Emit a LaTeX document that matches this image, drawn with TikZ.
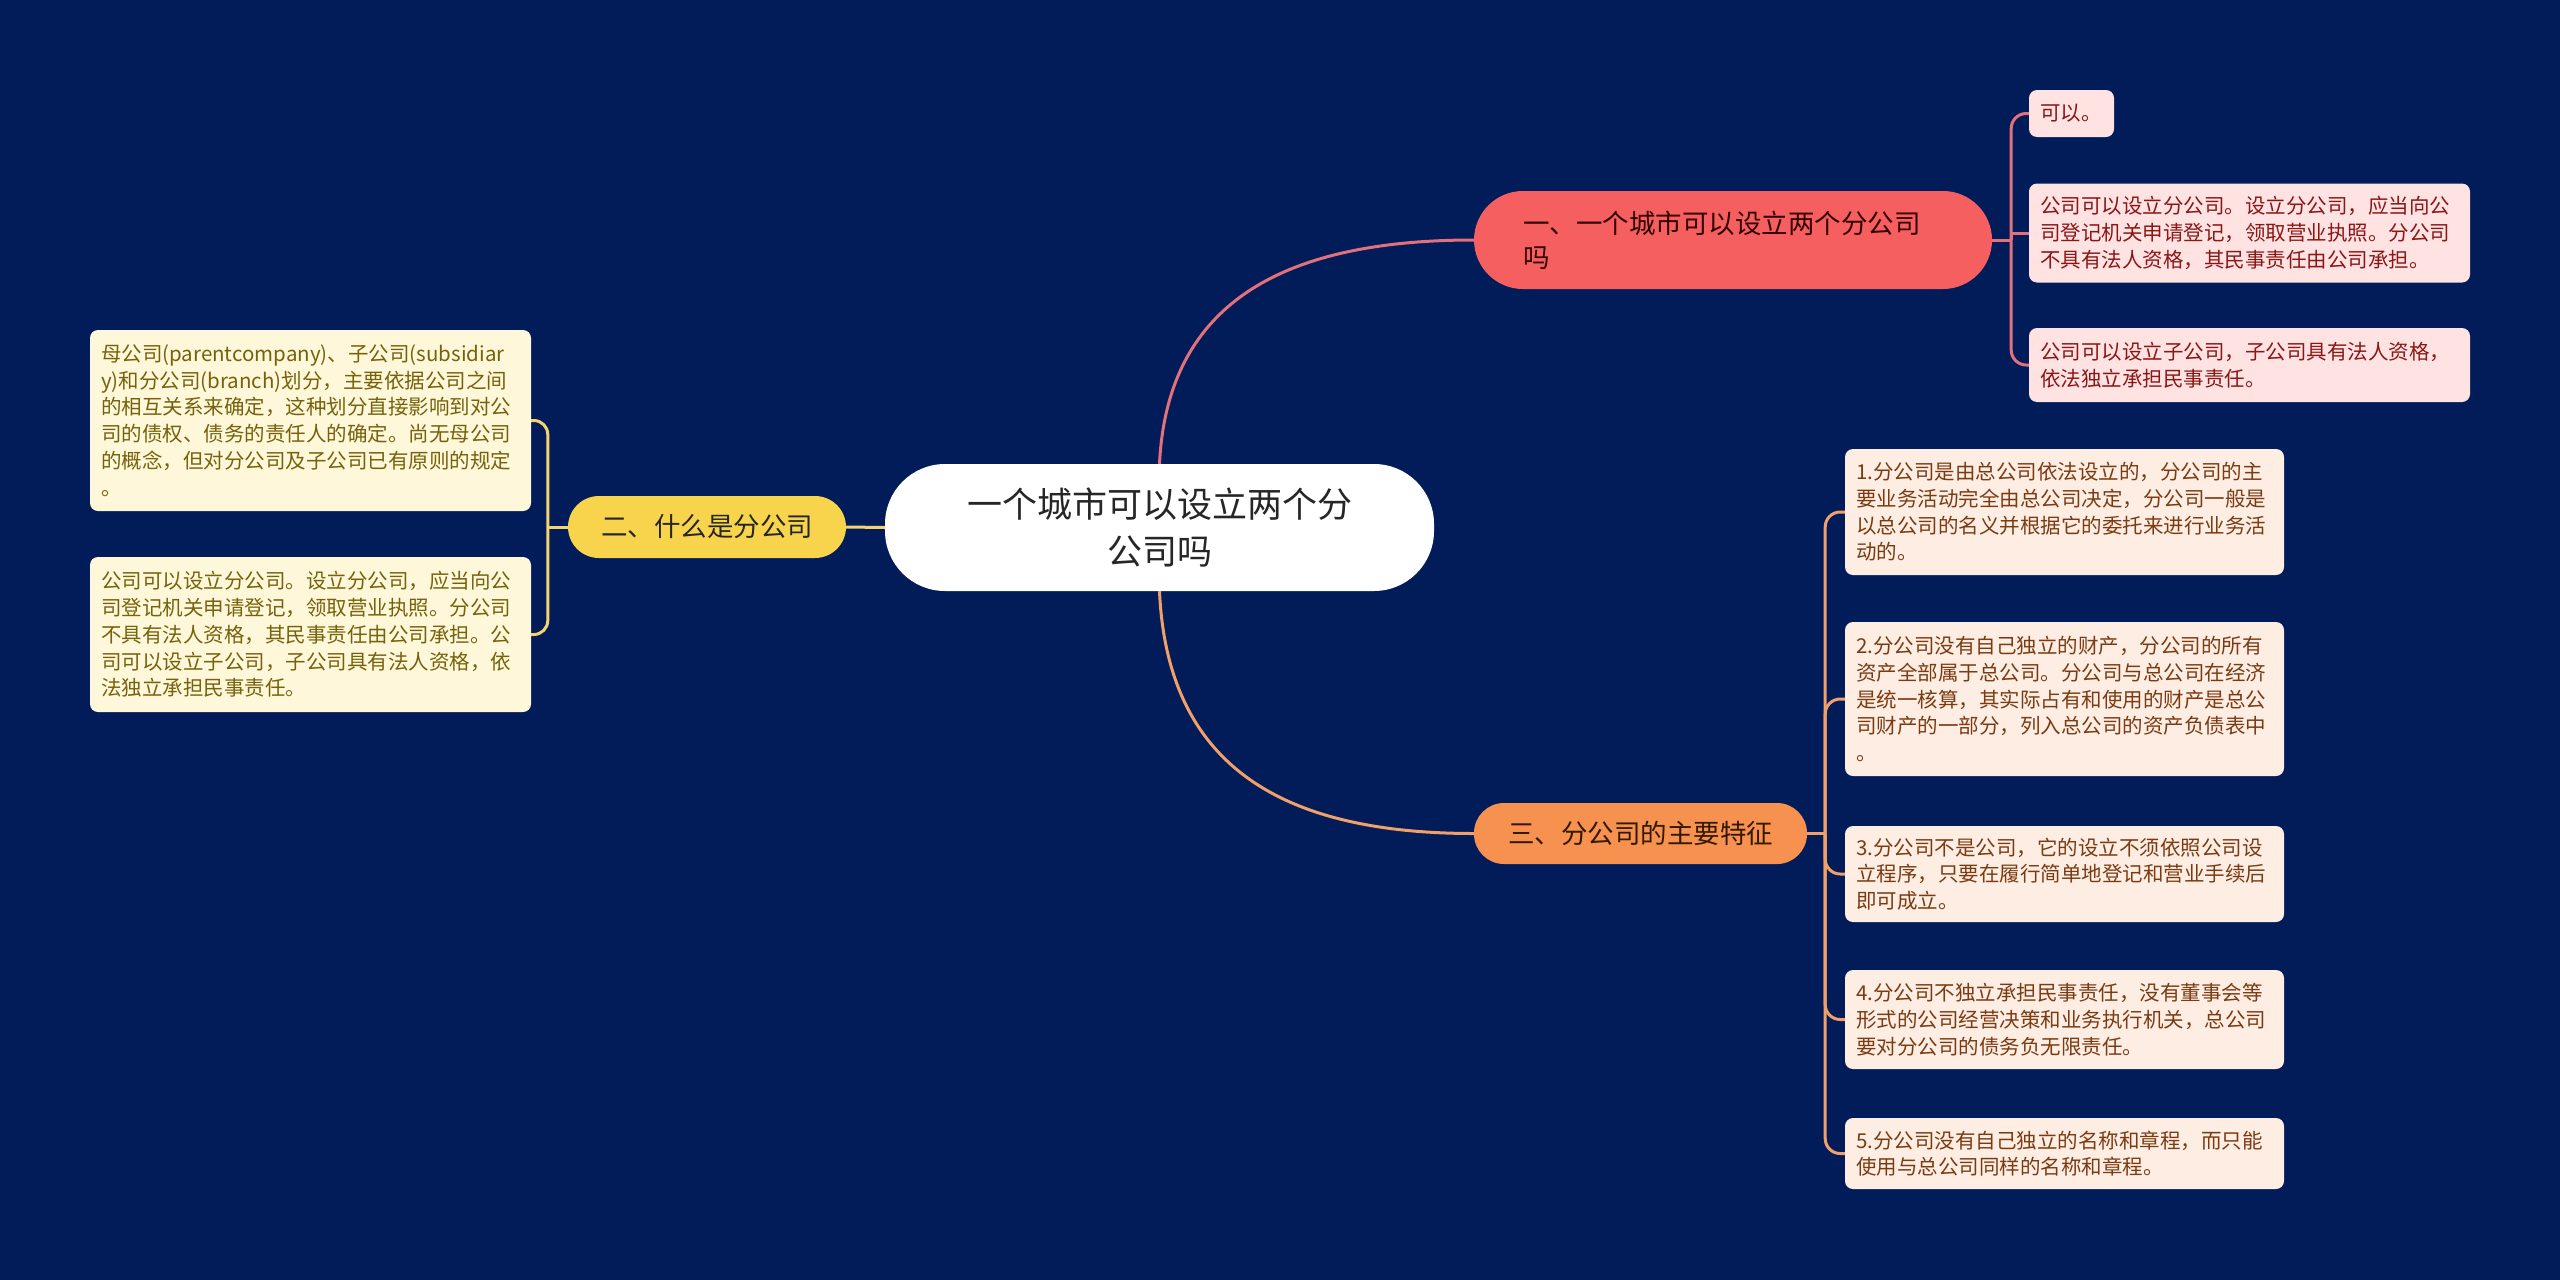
\documentclass[tikz,border=0pt]{standalone}
\usepackage{fontspec}
\setmainfont{Noto Sans CJK SC}
\usepackage{tikz}
\usetikzlibrary{calc}

\definecolor{bgnavy}{HTML}{011C58}
\definecolor{branchyel}{HTML}{F8D44C}
\definecolor{linkyel}{HTML}{F3D46E}
\definecolor{leafyel}{HTML}{FEF7DA}
\definecolor{textyel}{HTML}{76620A}
\definecolor{branchred}{HTML}{F55F5F}
\definecolor{linkred}{HTML}{E2717B}
\definecolor{leafred}{HTML}{FFE2E2}
\definecolor{textred}{HTML}{8A1616}
\definecolor{branchorg}{HTML}{F79150}
\definecolor{linkorg}{HTML}{F2A06A}
\definecolor{leaforg}{HTML}{FDEDE3}
\definecolor{textorg}{HTML}{7B3B12}

\tikzset{
	leafbox/.style={rectangle, rounded corners=8pt, inner xsep=11pt, inner ysep=0pt, text width=419pt, align=left, font=\fontsize{20.5}{26.7}\selectfont},
	yelleaf/.style={leafbox, fill=leafyel, text=textyel},
	redleaf/.style={leafbox, fill=leafred, text=textred},
	orgleaf/.style={leafbox, fill=leaforg, text=textorg, text width=417pt},
	pill/.style={rectangle, inner xsep=0pt, inner ysep=0pt, font=\fontsize{26.5}{34}\selectfont},
	link/.style={line width=3pt},
}

\begin{document}
\begin{tikzpicture}[x=1pt,y=-1pt]
	\fill[bgnavy] (0,0) rectangle (2560,1280); %background
	\useasboundingbox (0,0) rectangle (2560,1280);

	% centre topic
	\node[rectangle, fill=white, text=black!85, rounded corners=60pt, minimum width=549pt, minimum height=127pt, align=center, font=\fontsize{35}{47}\selectfont] (root) at (1159.5,527.5) {一个城市可以设立两个分\\公司吗};

	% main branches
	\node[pill, fill=branchyel, text=black!85, rounded corners=31pt, minimum width=278pt, minimum height=62pt] (what) at (707,527) {二、什么是分公司};
	\node[pill, fill=branchred, text=black!80!red, rounded corners=49pt, inner xsep=49pt, text width=420pt, minimum height=98pt, align=left] (can) at (1733,240) {一、一个城市可以设立两个分公司\\吗};
	\node[pill, fill=branchorg, text=black!80!orange, rounded corners=30pt, minimum width=333pt, minimum height=61pt] (feat) at (1640.5,833.5) {三、分公司的主要特征};

	% leaves of "what"
	\node[yelleaf, minimum height=181pt] (what1) at (310.5,420.5) {母公司(parentcompany)、子公司(subsidiar\\y)和分公司(branch)划分，主要依据公司之间\\的相互关系来确定，这种划分直接影响到对公\\司的债权、债务的责任人的确定。尚无母公司\\的概念，但对分公司及子公司已有原则的规定\\。};
	\node[yelleaf, minimum height=155pt] (what2) at (310.5,634.5) {公司可以设立分公司。设立分公司，应当向公\\司登记机关申请登记，领取营业执照。分公司\\不具有法人资格，其民事责任由公司承担。公\\司可以设立子公司，子公司具有法人资格，依\\法独立承担民事责任。};

	% leaves of "can"
	\node[redleaf, text width=63pt, minimum height=47pt] (can1) at (2071.5,113.5) {可以。};
	\node[redleaf, minimum height=99pt] (can2) at (2249.5,233) {公司可以设立分公司。设立分公司，应当向公\\司登记机关申请登记，领取营业执照。分公司\\不具有法人资格，其民事责任由公司承担。};
	\node[redleaf, minimum height=74pt] (can3) at (2249.5,365) {公司可以设立子公司，子公司具有法人资格，\\依法独立承担民事责任。};

	% leaves of "feat"
	\node[orgleaf, minimum height=126pt] (feat1) at (2064.5,512) {1.分公司是由总公司依法设立的，分公司的主\\要业务活动完全由总公司决定，分公司一般是\\以总公司的名义并根据它的委托来进行业务活\\动的。};
	\node[orgleaf, minimum height=154pt] (feat2) at (2064.5,699) {2.分公司没有自己独立的财产，分公司的所有\\资产全部属于总公司。分公司与总公司在经济\\是统一核算，其实际占有和使用的财产是总公\\司财产的一部分，列入总公司的资产负债表中\\。};
	\node[orgleaf, minimum height=96pt] (feat3) at (2064.5,874) {3.分公司不是公司，它的设立不须依照公司设\\立程序，只要在履行简单地登记和营业手续后\\即可成立。};
	\node[orgleaf, minimum height=99pt] (feat4) at (2064.5,1019.5) {4.分公司不独立承担民事责任，没有董事会等\\形式的公司经营决策和业务执行机关，总公司\\要对分公司的债务负无限责任。};
	\node[orgleaf, minimum height=71pt] (feat5) at (2064.5,1153.5) {5.分公司没有自己独立的名称和章程，而只能\\使用与总公司同样的名称和章程。};

	% connectors from the centre
	\draw[link, linkyel] (root.west) -- (what.east);
	\draw[link, linkred] (root.north) .. controls +(8,-165) and +(-185,0) .. (can.west);
	\draw[link, linkorg] (root.south) .. controls +(8,180) and +(-185,0) .. (feat.west);

	% brackets to the leaves
	\draw[link, linkyel] (what.west) -- ++(-20,0) coordinate (whattrunk);
	\draw[link, linkyel, rounded corners=14pt] (whattrunk) |- (what1.east);
	\draw[link, linkyel, rounded corners=14pt] (whattrunk) |- (what2.east);

	\draw[link, linkred] (can.east) -- ++(19,0) coordinate (cantrunk);
	\draw[link, linkred, rounded corners=15pt] (cantrunk) |- (can1.west);
	\draw[link, linkred] (cantrunk) |- (can2.west);
	\draw[link, linkred, rounded corners=15pt] (cantrunk) |- (can3.west);

	\draw[link, linkorg] (feat.east) -- ++(18,0) coordinate (feattrunk);
	\foreach \i in {1,...,5}
		\draw[link, linkorg, rounded corners=15pt] (feattrunk) |- (feat\i.west);
\end{tikzpicture}
\end{document}
